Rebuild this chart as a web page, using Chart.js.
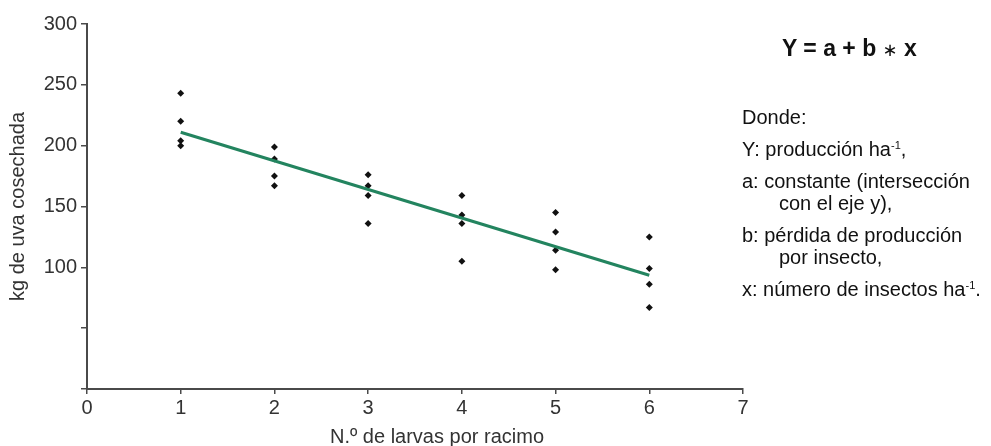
<!DOCTYPE html>
<html lang="es">
<head>
<meta charset="utf-8">
<title>Producción vs larvas por racimo</title>
<script src="https://cdn.jsdelivr.net/npm/chart.js@4"></script>
<style>
  body { margin: 0; background: #fff; }
  .wrap { position: relative; width: 991px; height: 446px; font-family: "Liberation Sans", Arial, sans-serif; }
  canvas { position: absolute; left: 0; top: 0; }
  .eq { position: absolute; left: 782px; top: 35px; font-size: 23px; font-weight: bold; line-height: 26px; color: #111; }
  .eq .op { font-family: "DejaVu Sans", sans-serif; font-weight: normal; font-size: 18px; }
  .donde { position: absolute; left: 742px; top: 106px; font-size: 20px; line-height: 22px; color: #111; }
  .donde div { margin-bottom: 10px; }
  .donde .ind { padding-left: 37px; }
  sup { font-size: 11px; line-height: 0; vertical-align: 7px; }
</style>
</head>
<body>
<div class="wrap">
  <canvas id="grafico" width="991" height="446"></canvas>
  <div class="eq">Y = a + b <span class="op">∗</span> x</div>
  <div class="donde">
    <div>Donde:</div>
    <div>Y: producción ha<sup>-1</sup>,</div>
    <div>a: constante (intersección<br><span class="ind">con el eje y),</span></div>
    <div>b: pérdida de producción<br><span class="ind">por insecto,</span></div>
    <div>x: número de insectos ha<sup>-1</sup>.</div>
  </div>
</div>
<script>
// valores
const larvas = [1, 2, 3, 4, 5, 6];
const kgObservados = [
  [243, 220, 204, 200],
  [199, 189, 175, 167],
  [176, 167, 159, 136],
  [159, 143, 136, 105],
  [145, 129, 114, 98],
  [125, 99, 86, 67]
];
const rectaX = [1, 6];
const rectaY = [211, 93.5];
const xTickLabels = ['0', '1', '2', '3', '4', '5', '6', '7'];
const yTickLabels = ['', '', '100', '150', '200', '250', '300'];

const puntos = [];
larvas.forEach((x, i) => {
  kgObservados[i].forEach(y => puntos.push({ x: x, y: y }));
});
const recta = rectaX.map((x, i) => ({ x: x, y: rectaY[i] }));

const fuente = '"Liberation Sans", Arial, sans-serif';
const gris = '#333';
const ejeColor = '#4a4a4a';

// titulo del eje x, algo desplazado a la derecha como en el original
const tituloX = {
  id: 'tituloX',
  afterDraw(chart) {
    const { ctx, scales: { x } } = chart;
    ctx.save();
    ctx.font = '20px ' + fuente;
    ctx.fillStyle = gris;
    ctx.textAlign = 'center';
    ctx.textBaseline = 'middle';
    ctx.fillText('N.º de larvas por racimo', (x.left + x.right) / 2 + 22, x.bottom - 9);
    ctx.restore();
  }
};

const ctx = document.getElementById('grafico').getContext('2d');
new Chart(ctx, {
  type: 'scatter',
  data: {
    datasets: [
      {
        type: 'line',
        data: recta,
        borderColor: '#23845f',
        borderWidth: 3,
        pointRadius: 0,
        fill: false,
        order: 0
      },
      {
        data: puntos,
        pointStyle: 'rectRot',
        pointRadius: 3.5,
        backgroundColor: '#111',
        borderColor: '#111',
        borderWidth: 0,
        order: 1
      }
    ]
  },
  options: {
    responsive: false,
    animation: false,
    plugins: { legend: { display: false }, tooltip: { enabled: false } },
    layout: { padding: { top: 24, right: 248, bottom: 0, left: 0 } },
    scales: {
      x: {
        type: 'linear',
        min: 0,
        max: 7,
        afterFit: s => { s.height = 57; },
        afterBuildTicks: s => { s.ticks = xTickLabels.map((t, i) => ({ value: i })); },
        ticks: {
          callback: (v, i) => xTickLabels[i],
          color: gris,
          font: { family: fuente, size: 20 },
          padding: 2,
          maxRotation: 0
        },
        grid: { drawOnChartArea: false, drawTicks: true, tickLength: 5, color: ejeColor, lineWidth: 1.5 },
        border: { display: true, color: ejeColor, width: 2 }
      },
      y: {
        min: 0,
        max: 300,
        afterFit: s => { s.width = 87; },
        afterBuildTicks: s => { s.ticks = yTickLabels.map((t, i) => ({ value: i * 50 })); },
        ticks: {
          callback: (v, i) => yTickLabels[i],
          color: gris,
          font: { family: fuente, size: 20 },
          padding: 4
        },
        grid: { drawOnChartArea: false, drawTicks: true, tickLength: 6, color: ejeColor, lineWidth: 1.5 },
        border: { display: true, color: ejeColor, width: 2 },
        title: {
          display: true,
          text: 'kg de uva cosechada',
          color: gris,
          font: { family: fuente, size: 20 },
          padding: { top: 6, bottom: 0 }
        }
      }
    }
  },
  plugins: [tituloX]
});
</script>
</body>
</html>
